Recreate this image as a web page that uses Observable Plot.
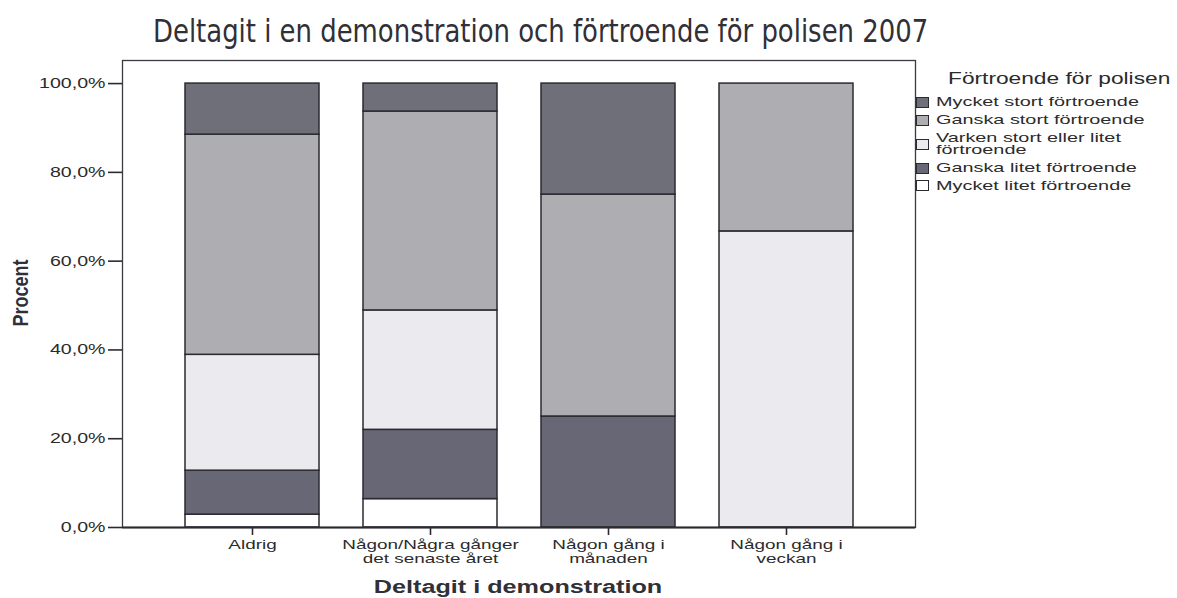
<!DOCTYPE html>
<html>
<head>
<meta charset="utf-8">
<script src="https://cdn.jsdelivr.net/npm/d3@7"></script>
<script src="https://cdn.jsdelivr.net/npm/@observablehq/plot@0.6"></script>
<style>
  html, body { margin: 0; padding: 0; background: #ffffff; }
  #wrap { position: relative; width: 1177px; height: 598px; overflow: hidden; font-family: "Liberation Sans", Arial, sans-serif; color: #2b2b2b; }
  #wrap svg { position: absolute; left: 0; top: 0; }
  .ov { position: absolute; white-space: nowrap; }
  #title { font-family: "Liberation Sans Narrow", "DejaVu Sans Condensed", "Liberation Sans", sans-serif; font-size: 32px; line-height: 32px; color: #303036; }
  .axtitle { font-weight: bold; font-size: 18px; line-height: 18px; color: #303036; }
  .lg-text { position: absolute; font-size: 13.5px; line-height: 12.5px; white-space: pre; transform-origin: 0 50%; transform: scaleX(1.47); color: #2b2b2b; }
  .lg-sw { position: absolute; width: 11px; height: 9px; border: 1px solid #2a2a30; }
</style>
</head>
<body>
<div id="wrap"></div>
<script>
// ---- data ----
const categories = ["Aldrig", "Någon/Några gånger det senaste året", "Någon gång i månaden", "Någon gång i veckan"];
const tickLabels = ["Aldrig", "Någon/Några gånger\ndet senaste året", "Någon gång i\nmånaden", "Någon gång i\nveckan"];
// stack order bottom -> top
const levels = ["Mycket litet förtroende", "Ganska litet förtroende", "Varken stort eller litet förtroende", "Ganska stort förtroende", "Mycket stort förtroende"];
const legendLabels = ["Mycket litet förtroende", "Ganska litet förtroende", "Varken stort eller litet\nförtroende", "Ganska stort förtroende", "Mycket stort förtroende"];
const levelColors = ["#ffffff", "#676775", "#ebebef", "#adadb2", "#6f6f79"];
// percentages per category, in levels order (bottom -> top)
const aldrig = [2.9, 9.9, 26.1, 49.6, 11.5];
const nagraGanger = [6.4, 15.6, 26.9, 44.8, 6.3];
const manaden = [0, 25.0, 0, 50.0, 25.0];
const veckan = [0, 0, 66.7, 33.3, 0];
const seriesByCategory = [aldrig, nagraGanger, manaden, veckan];
const yTicks = [0, 20, 40, 60, 80, 100];

const titleText = "Deltagit i en demonstration och förtroende för polisen 2007";
const yTitle = "Procent";
const xTitle = "Deltagit i demonstration";
const legendTitle = "Förtroende för polisen";

// ---- table ----
const rows = [];
categories.forEach((c, ci) => {
  levels.forEach((lv, li) => {
    const v = seriesByCategory[ci][li];
    if (v > 0) rows.push({cat: c, level: lv, value: v});
  });
});

const TEXT_STRETCH = 1.4;

const chart = Plot.plot({
  width: 1177,
  height: 598,
  marginLeft: 122,
  marginRight: 262,
  marginTop: 60,
  marginBottom: 71,
  style: {fontFamily: '"Liberation Sans", Arial, sans-serif', fontSize: "13.5px", color: "#2b2b2b", background: "transparent"},
  x: {domain: categories, paddingInner: 0.25, paddingOuter: 0.35, label: null},
  y: {domain: [0, 105.2], label: null},
  color: {domain: levels, range: levelColors},
  marks: [
    Plot.barY(rows, Plot.stackY({x: "cat", y: "value", fill: "level", stroke: "#2a2a30", strokeWidth: 1.5, order: levels})),
    Plot.frame({stroke: "#3a3a40", strokeWidth: 1.3}),
    Plot.ruleY([0], {stroke: "#2a2a30", strokeWidth: 2}),
    Plot.axisY(yTicks, {tickSize: 14, tickPadding: 3, stroke: "#2a2a30", strokeWidth: 1.6, fill: "#2b2b2b",
      tickFormat: d => d.toFixed(1).replace(".", ",") + "%", fontSize: 14, label: null}),
    Plot.axisX({tickSize: 8, tickPadding: 4, stroke: "#2a2a30", strokeWidth: 1.6, fill: "#2b2b2b",
      tickFormat: d => tickLabels[categories.indexOf(d)], fontSize: 13.5, lineHeight: 1.02, label: null})
  ]
});

const wrap = document.getElementById("wrap");
wrap.appendChild(chart);

// stretch horizontal tick label text around its own anchor (reference text is wide)
chart.querySelectorAll("text").forEach(t => {
  const tr = t.getAttribute("transform") || "";
  t.setAttribute("transform", tr + ` scale(${TEXT_STRETCH},1)`);
});

// ---- title ----
const title = document.createElement("div");
title.id = "title";
title.className = "ov";
title.textContent = titleText;
wrap.appendChild(title);
{
  const w = title.offsetWidth;
  const s = 775 / w;
  title.style.left = (540 - w / 2) + "px";
  title.style.top = (31 - 16) + "px";
  title.style.transformOrigin = "50% 50%";
  title.style.transform = `scaleX(${s})`;
}

// ---- axis titles ----
const yt = document.createElement("div");
yt.className = "ov axtitle";
yt.textContent = yTitle;
wrap.appendChild(yt);
{
  const w = yt.offsetWidth, h = yt.offsetHeight;
  yt.style.left = (20 - w / 2) + "px";
  yt.style.top = (293 - h / 2) + "px";
  yt.style.transform = "rotate(-90deg) scaleY(1.25)";
}
const xt = document.createElement("div");
xt.className = "ov axtitle";
xt.textContent = xTitle;
wrap.appendChild(xt);
{
  const w = xt.offsetWidth, h = xt.offsetHeight;
  xt.style.left = (518 - w / 2) + "px";
  xt.style.top = (587 - h / 2) + "px";
  xt.style.transform = `scaleX(1.4)`;
}

// ---- legend (top -> bottom = reverse of stack order) ----
const lgTitle = document.createElement("div");
lgTitle.className = "ov";
lgTitle.textContent = legendTitle;
lgTitle.style.cssText += "font-size:16px;line-height:16px;left:948px;top:71px;transform-origin:0 50%;transform:scaleX(1.42);color:#2b2b2b;";
wrap.appendChild(lgTitle);

let rowTop = 96;
for (let k = levels.length - 1; k >= 0; k--) {
  const label = legendLabels[k];
  const lines = label.split("\n").length;
  const blockH = lines * 12.5;
  const sw = document.createElement("div");
  sw.className = "lg-sw";
  sw.style.left = "916px";
  sw.style.top = (rowTop + blockH / 2 - 5.5) + "px";
  sw.style.background = levelColors[k];
  wrap.appendChild(sw);
  const tx = document.createElement("div");
  tx.className = "lg-text";
  tx.style.left = "936px";
  tx.style.top = rowTop + "px";
  tx.textContent = label;
  wrap.appendChild(tx);
  rowTop += blockH + 5.3;
}
</script>
</body>
</html>
